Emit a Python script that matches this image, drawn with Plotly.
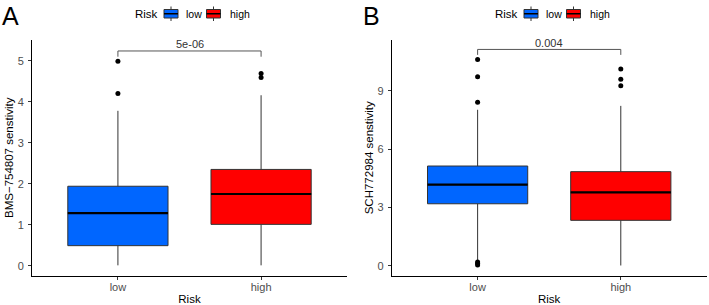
import plotly.graph_objects as go

groups = ["low", "high"]
group_colors = ["#0066FF", "#FF0000"]
legend_title = "Risk"

# Panel A: BMS-754807 sensitivity
a_q1 = [0.49, 1.01]
a_median = [1.285, 1.75]
a_q3 = [1.94, 2.35]
a_lower = [0.01, 0.01]
a_upper = [3.78, 4.16]
a_outliers = [[4.99, 4.20], [4.69, 4.59]]
a_pvalue = "5e-06"

# Panel B: SCH772984 sensitivity
b_q1 = [3.19, 2.34]
b_median = [4.17, 3.78]
b_q3 = [5.13, 4.84]
b_lower = [0.30, 0.02]
b_upper = [8.02, 8.22]
b_outliers = [[10.6, 9.71, 8.40, 0.20, 0.12, 0.05], [10.12, 9.59, 9.26]]
b_pvalue = "0.004"

FONT = "Liberation Sans, Arial, sans-serif"
BOX_W = 0.7
W, H = 709, 305

fig = go.Figure()

panels = [
    dict(q1=a_q1, med=a_median, q3=a_q3, lo=a_lower, hi=a_upper, out=a_outliers,
         p=a_pvalue, xa="x", ya="y", brk=(5.10, 5.24), ptext=5.40,
         ytitle="BMS\u2212754807 senstivity", yrange=[-0.25, 5.52], ytick=[0, 1, 2, 3, 4, 5],
         dom=[32 / W, 347 / W], label="A", lx=0.0, off=0),
    dict(q1=b_q1, med=b_median, q3=b_q3, lo=b_lower, hi=b_upper, out=b_outliers,
         p=b_pvalue, xa="x2", ya="y2", brk=(10.84, 11.12), ptext=11.46,
         ytitle="SCH772984 senstivity", yrange=[-0.52, 11.63], ytick=[0, 3, 6, 9],
         dom=[391.7 / W, 706.7 / W], label="B", lx=361 / W, off=360),
]


def px_x(v):
    return v / W


def px_y(v):
    return 1 - v / H


shapes = []
annotations = []
for p in panels:
    for i, g in enumerate(groups):
        fig.add_trace(go.Box(
            x=[g], q1=[p["q1"][i]], median=[p["med"][i]], q3=[p["q3"][i]],
            lowerfence=[p["lo"][i]], upperfence=[p["hi"][i]],
            name=g, width=BOX_W, whiskerwidth=0,
            fillcolor=group_colors[i],
            line=dict(color="#333333", width=1),
            boxpoints=False, xaxis=p["xa"], yaxis=p["ya"],
            showlegend=False, hoverinfo="skip",
        ))
        fig.add_trace(go.Scatter(
            x=[g] * len(p["out"][i]), y=p["out"][i], mode="markers",
            marker=dict(color="black", size=5), showlegend=False,
            xaxis=p["xa"], yaxis=p["ya"], hoverinfo="skip",
        ))
        shapes.append(dict(type="line", xref=p["xa"], yref=p["ya"],
                           x0=i - BOX_W / 2, x1=i + BOX_W / 2,
                           y0=p["med"][i], y1=p["med"][i],
                           line=dict(color="black", width=2.2), layer="above"))
    y0, y1 = p["brk"]
    shapes.append(dict(type="path", xref=p["xa"], yref=p["ya"],
                       path=f"M 0 {y0} L 0 {y1} L 1 {y1} L 1 {y0}",
                       line=dict(color="#555555", width=1)))
    annotations.append(dict(xref=p["xa"], yref=p["ya"], x=0.5, y=p["ptext"],
                            text=p["p"], showarrow=False,
                            font=dict(family=FONT, size=11, color="#333333")))
    annotations.append(dict(xref="paper", yref="paper", x=p["lx"], y=1.0,
                            xanchor="left", yanchor="top", text=p["label"],
                            showarrow=False,
                            font=dict(family=FONT, size=25, color="black")))

    # legend (ggplot-style, drawn at the top of each panel)
    o = p["off"]
    annotations.append(dict(xref="paper", yref="paper", x=px_x(133 + o), y=px_y(14),
                            xanchor="left", yanchor="middle", text=legend_title,
                            showarrow=False,
                            font=dict(family=FONT, size=11.5, color="black")))
    key_left = [164, 206.5]
    text_left = [184, 228]
    for i, g in enumerate(groups):
        kl = key_left[i] + o
        kr = kl + 14
        kc = (kl + kr) / 2
        shapes.append(dict(type="rect", xref="paper", yref="paper",
                           x0=px_x(kl), x1=px_x(kr), y0=px_y(18), y1=px_y(9.5),
                           fillcolor=group_colors[i],
                           line=dict(color="#333333", width=1)))
        shapes.append(dict(type="line", xref="paper", yref="paper",
                           x0=px_x(kl), x1=px_x(kr), y0=px_y(13.75), y1=px_y(13.75),
                           line=dict(color="black", width=1.5)))
        shapes.append(dict(type="line", xref="paper", yref="paper",
                           x0=px_x(kc), x1=px_x(kc), y0=px_y(6.5), y1=px_y(9.5),
                           line=dict(color="#333333", width=1)))
        shapes.append(dict(type="line", xref="paper", yref="paper",
                           x0=px_x(kc), x1=px_x(kc), y0=px_y(18), y1=px_y(21),
                           line=dict(color="#333333", width=1)))
        annotations.append(dict(xref="paper", yref="paper", x=px_x(text_left[i] + o),
                                y=px_y(14), xanchor="left", yanchor="middle",
                                text=g, showarrow=False,
                                font=dict(family=FONT, size=10.5, color="black")))

axis_common = dict(showline=True, linecolor="black", linewidth=1, ticks="outside",
                   ticklen=3, tickcolor="#333333", showgrid=False, zeroline=False,
                   automargin=False,
                   tickfont=dict(family=FONT, size=11, color="#4d4d4d"),
                   title_font=dict(family=FONT, size=11.5, color="black"))

ydom = [(H - 276) / H, (H - 39.5) / H]

for k, p in enumerate(panels):
    sx = "" if k == 0 else "2"
    fig.update_layout(**{
        f"xaxis{sx}": dict(domain=p["dom"], anchor=f"y{sx}", type="category",
                           categoryorder="array", categoryarray=groups,
                           range=[-0.6, 1.6], ticklabelstandoff=-2,
                           title=dict(text="Risk", standoff=4),
                           **axis_common),
        f"yaxis{sx}": dict(domain=ydom, anchor=f"x{sx}", range=p["yrange"],
                           tickvals=p["ytick"], ticklabelstandoff=2,
                           title=dict(text=p["ytitle"], standoff=1),
                           **axis_common),
    })

fig.update_layout(
    width=W, height=H, margin=dict(l=0, r=0, t=0, b=0, autoexpand=False),
    plot_bgcolor="white", paper_bgcolor="white", showlegend=False,
    shapes=shapes, annotations=annotations, boxmode="overlay",
)

fig.write_html(
    "out.html",
    config={"displayModeBar": False},
    post_script="document.body.style.margin='0';document.body.style.overflow='hidden';",
)
